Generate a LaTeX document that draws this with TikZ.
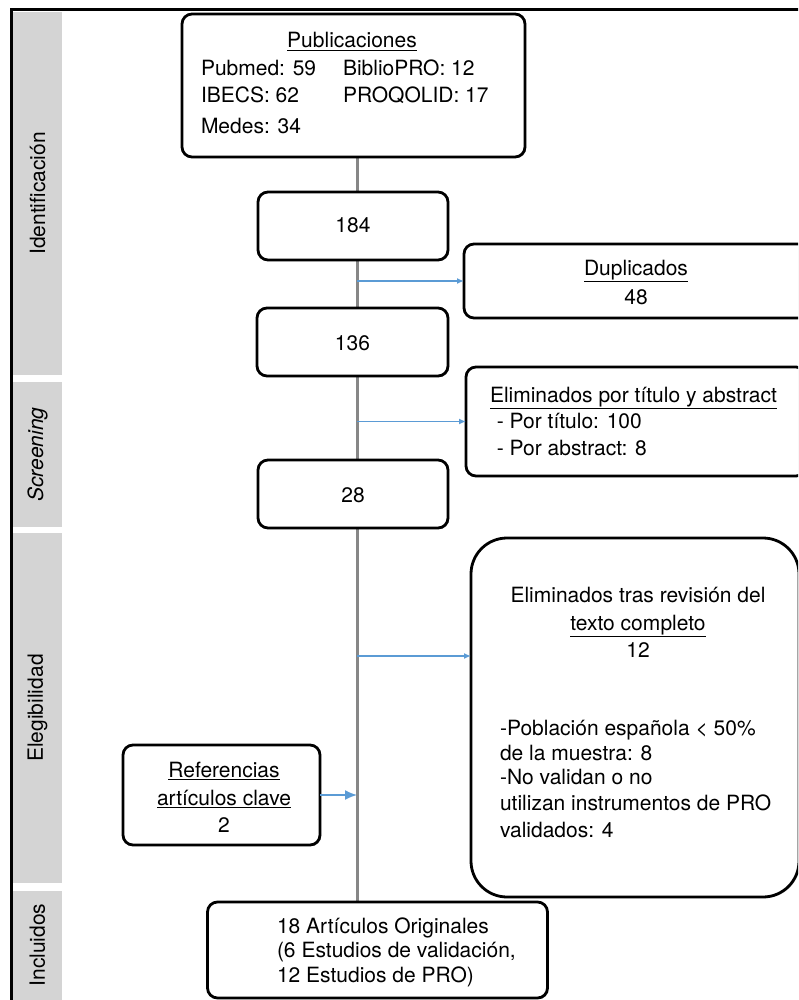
\documentclass[tikz,border=0pt]{standalone}
\usepackage{fontspec}
\setmainfont{TeX Gyre Heros}
\usetikzlibrary{arrows.meta,shadows,backgrounds}
\definecolor{sidegray}{HTML}{D4D4D4}
\definecolor{flowgray}{HTML}{878787}
\definecolor{arrowblue}{HTML}{5B9BD5}
\begin{document}
\begin{tikzpicture}[x=1pt,y=-1pt,
  every node/.style={font=\fontsize{21pt}{26pt}\selectfont, inner sep=0pt, outer sep=0pt},
  box/.style={draw=black, fill=white, line width=2.8pt, rounded corners=10pt,
    drop shadow={shadow xshift=1.2pt, shadow yshift=-1.2pt, opacity=0.25, fill=black}},
  sidelab/.style={rotate=90, anchor=center},
  txt/.style={anchor=base west},
  ctxt/.style={anchor=base},
  flow/.style={draw=flowgray, line width=3pt},
  barr/.style={draw=arrowblue, line width=1.6pt, -{Latex[length=7pt,width=6pt]}},
  barrbig/.style={draw=arrowblue, line width=1.6pt, -{Latex[length=12pt,width=10pt]}}
]
\useasboundingbox (0,0) rectangle (798,1000);
\clip (0,0) rectangle (798,1000);

% frame
\draw[line width=3pt] (11,1010) -- (11,9.5) -- (810,9.5);

% side bars
\fill[sidegray] (13,12) rectangle (62,375);
\fill[sidegray] (13,382) rectangle (62,527);
\fill[sidegray] (13,533) rectangle (62,883);
\fill[sidegray] (13,891) rectangle (62,1010);
\node[sidelab] (lidf) at (37.5,193.5) {Identificación};
\node[sidelab] (lscr) at (37.5,454.5) {\itshape Screening};
\node[sidelab] (lele) at (37.5,708) {Elegibilidad};
\node[sidelab] (linc) at (37.5,945) {Incluidos};

% axis
\coordinate (axis) at (357,0);
\coordinate (e2a) at (357,656);

% boxes
\node[box, minimum width=343pt, minimum height=143pt] (pub) at (353.5,85.5) {};
\node[box, minimum width=340pt, minimum height=96pt] (inc) at (377.5,950) {};
\node[box, minimum width=190pt, minimum height=68pt] (b184) at (353,226) {};
\node[box, minimum width=191pt, minimum height=68pt] (b136) at (352.5,342) {};
\node[box, minimum width=190pt, minimum height=68pt] (b28) at (353,494) {};
\node[box, minimum width=344pt, minimum height=74pt] (dup) at (636,281) {};
\node[box, minimum width=340pt, minimum height=109pt] (elim1) at (636,421.5) {};
\node[box, rounded corners=36pt, minimum width=328pt, minimum height=359pt] (elim2) at (635,717.5) {};
\node[box, minimum width=197pt, minimum height=100pt] (ref) at (221.5,795) {};

% main flow line behind the boxes
\begin{scope}[on background layer]
\draw[flow] (pub.south -| axis) -- (inc.north -| axis);
\end{scope}

% arrows
\draw[barr] (dup.west -| axis) -- (dup.west);
\draw[barr] (elim1.west -| axis) -- (elim1.west);
\draw[barr] (e2a) -- (elim2.west |- e2a);
\draw[barrbig] (ref.east) -- (ref.east -| axis);

% texts
\node[ctxt] (tpub) at (352,48) {\underline{Publicaciones}};
\node[txt] (tpm) at (201,76) {Pubmed: 59};
\node[txt] (tbp) at (343,76) {BiblioPRO: 12};
\node[txt] (tib) at (201,103) {IBECS: 62};
\node[txt] (tpq) at (343,103) {PROQOLID: 17};
\node[txt] (tme) at (201,134) {Medes: 34};

\node[ctxt] (t184) at (353,233) {184};
\node[ctxt] (t136) at (352.5,350) {136};
\node[ctxt] (t28) at (353,502) {28};

\node[ctxt] (tdup) at (636,275) {\underline{Duplicados}};
\node[ctxt] (tdupn) at (636,304) {48};

\node[txt] (te1h) at (490,402) {\underline{Eliminados por título y abstract}};
\node[txt] (te1a) at (491,428) {\ - Por título: 100};
\node[txt] (te1b) at (491,455) {\ - Por abstract: 8};

\node[ctxt] (te2h) at (638,602) {Eliminados tras revisión del};
\node[ctxt] (te2u) at (638,630) {\underline{texto completo}};
\node[ctxt] (te2n) at (638,657) {12};
\node[txt] (te2a) at (500,735) {-Población española \textless{} 50\%};
\node[txt] (te2b) at (500,760) {de la muestra: 8};
\node[txt] (te2c) at (500,784) {-No validan o no};
\node[txt] (te2d) at (500,810) {utilizan instrumentos de PRO};
\node[txt] (te2e) at (500,837) {validados: 4};

\node[ctxt] (tr1) at (224,777) {\underline{Referencias}};
\node[ctxt] (tr2) at (224,805) {\underline{artículos clave}};
\node[ctxt] (tr3) at (224,832) {2};

\node[txt] (ti1) at (277,933) {18 Artículos Originales};
\node[txt] (ti2) at (277,957) {(6 Estudios de validación,};
\node[txt] (ti3) at (277,982) {12 Estudios de PRO)};
\end{tikzpicture}
\end{document}
